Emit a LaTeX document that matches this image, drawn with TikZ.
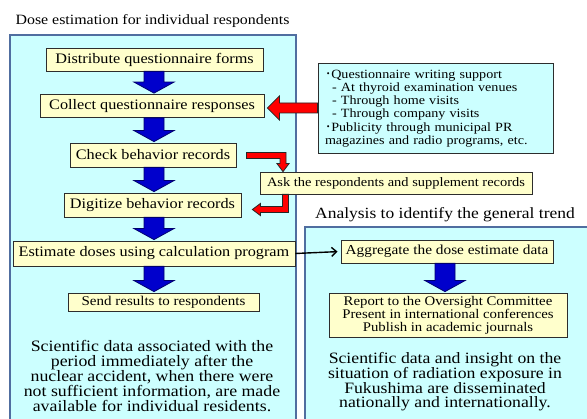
\documentclass[tikz,border=0pt]{standalone}
\usepackage{fontspec}
\setmainfont{Liberation Serif}[FakeStretch=1.12]
\newfontfamily\cjk{Noto Sans CJK JP}
\usetikzlibrary{calc,arrows.meta}

\definecolor{panelfill}{RGB}{204,255,255}
\definecolor{panelline}{RGB}{80,110,160}
\definecolor{boxfill}{RGB}{255,255,204}
\definecolor{boxline}{RGB}{45,45,45}
\definecolor{flowblue}{RGB}{0,0,204}
\definecolor{flowblueline}{RGB}{0,0,110}
\definecolor{hintred}{RGB}{255,0,0}

\newcommand\fs[2]{\fontsize{#1}{#2}\selectfont}

% thick downward block arrow between two nodes, at a given x
\newcommand\blockdown[3]{%
  \draw[bluearrow] let \p1=(#2.south), \p2=(#3.north) in
    ({#1pt-10pt},\y1) -- ({#1pt+10pt},\y1) -- ({#1pt+10pt},\y2+12pt) --
    ({#1pt+20pt},\y2+12pt) -- (#1pt,\y2+1pt) -- ({#1pt-20pt},\y2+12pt) --
    ({#1pt-10pt},\y2+12pt) -- cycle;}

\tikzset{
  panel/.style={fill=panelfill, draw=panelline, line width=1.5pt},
  stepbox/.style={fill=boxfill, draw=boxline, line width=0.8pt, inner sep=0pt,
    align=center},
  infobox/.style={fill=panelfill, draw=boxline, line width=0.9pt, inner xsep=7pt,
    inner ysep=0pt, align=left},
  bluearrow/.style={fill=flowblue, draw=flowblueline, line width=0.8pt},
  redarrow/.style={fill=hintred, draw=black!85, line width=0.8pt},
  heading/.style={inner sep=0pt},
  summary/.style={align=center, inner sep=0pt},
}

\begin{document}
\begin{tikzpicture}[x=1pt,y=-1pt]
\useasboundingbox (0,0) rectangle (587,419);
\fill[white] (0,0) rectangle (587,419);

% the two panels
\draw[panel] (10,35) rectangle (296,440);
\draw[panel] (305,227) rectangle (600,440);
\node[heading, font=\fs{14.2}{16}] (titleL) at (152.5,21) {Dose estimation for individual respondents};
\node[heading, font=\fs{15.6}{17}] (titleR) at (445,215) {Analysis to identify the general trend};

% individual dose estimation steps
\node[stepbox, minimum width=217, minimum height=23, font=\fs{14.5}{16}] (dist) at (154.5,59.5) {Distribute questionnaire forms};
\node[stepbox, minimum width=224, minimum height=23, font=\fs{14.5}{16}] (coll) at (152,106) {Collect questionnaire responses};
\node[stepbox, minimum width=166, minimum height=24, font=\fs{14.5}{16}] (check) at (153,155) {Check behavior records};
\node[stepbox, minimum width=177, minimum height=24, font=\fs{14.5}{16}] (digit) at (152.5,205) {Digitize behavior records};
\node[stepbox, minimum width=282, minimum height=25, font=\fs{14.5}{16}] (est) at (154,253.5) {Estimate doses using calculation program};
\node[stepbox, minimum width=191, minimum height=18, font=\fs{13.4}{14}] (send) at (163.5,302) {Send results to respondents};

% support measures
\node[infobox, minimum width=235, minimum height=90, text width=221, font=\fs{12.6}{13.3}] (info) at (435.5,108.5)
  {{\cjk ･}Questionnaire writing support\\
   \hspace*{7pt}- At thyroid examination venues\\
   \hspace*{7pt}- Through home visits\\
   \hspace*{7pt}- Through company visits\\
   {\cjk ･}Publicity through municipal PR\\
   magazines and radio programs, etc.};
\node[stepbox, minimum width=272, minimum height=22, font=\fs{12.9}{14}] (ask) at (396,183) {Ask the respondents and supplement records};

% general trend analysis
\node[stepbox, minimum width=212, minimum height=23, font=\fs{13.7}{15}] (agg) at (447,251.5) {Aggregate the dose estimate data};
\node[stepbox, minimum width=238, minimum height=44, font=\fs{13.2}{13}] (report) at (448,315)
  {Report to the Oversight Committee\\Present in international conferences\\Publish in academic journals};

% concluding statements
\node[summary, font=\fs{15.9}{15}] (sumL) at (152,376)
  {Scientific data associated with the\\period immediately after the\\nuclear accident, when there were\\not sufficient information, are made\\available for individual residents.};
\node[summary, font=\fs{15.8}{14.7}] (sumR) at (445,382)
  {Scientific data and insight on the\\situation of radiation exposure in\\Fukushima are disseminated\\nationally and internationally.};

% main flow
\blockdown{154}{dist}{coll}
\blockdown{154}{coll}{check}
\blockdown{154}{check}{digit}
\blockdown{154}{digit}{est}
\blockdown{154}{est}{send}
\blockdown{445}{agg}{report}

% support feeds into collection
\draw[redarrow] let \p1=(info.west), \p2=(coll.east) in
  (\x1,-103pt) -- ({\x2+15pt},-103pt) -- ({\x2+15pt},-96pt) -- ({\x2+3pt},-108pt) --
  ({\x2+15pt},-120pt) -- ({\x2+15pt},-113pt) -- (\x1,-113pt) -- cycle;

% detour through the respondents
\draw[redarrow] let \p1=(check.east), \p2=(ask.north) in
  ({\x1+10pt},-152.5pt) -- (286pt,-152.5pt) -- (286pt,{\y2+8pt}) -- (289pt,{\y2+8pt}) --
  (283pt,\y2) -- (277pt,{\y2+8pt}) -- (280pt,{\y2+8pt}) -- (280pt,-158.5pt) --
  ({\x1+10pt},-158.5pt) -- cycle;
\draw[redarrow] let \p1=(ask.south), \p2=(digit.east) in
  (282.5pt,\y1) -- (288.5pt,\y1) -- (288.5pt,-212.5pt) -- ({\x2+19pt},-212.5pt) --
  ({\x2+19pt},-215.5pt) -- ({\x2+11pt},-209.5pt) -- ({\x2+19pt},-203.5pt) --
  ({\x2+19pt},-206.5pt) -- (282.5pt,-206.5pt) -- cycle;

% estimates go to the aggregate analysis
\draw[line width=1.4pt, -{Straight Barb[length=5pt,width=9pt]}, shorten >=3pt] (est.east) -- (agg.west);
\end{tikzpicture}
\end{document}
